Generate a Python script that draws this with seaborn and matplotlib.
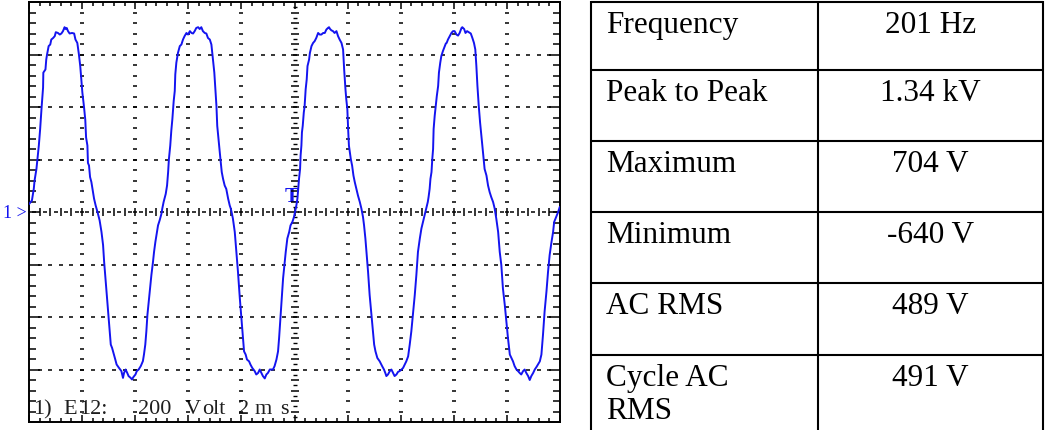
import numpy as np
import pandas as pd
import matplotlib
matplotlib.use("Agg")
import matplotlib.pyplot as plt
import seaborn as sns

# ---------------- data (read from the oscilloscope screen) ----------------
# time in ms, voltage in V  (200 V/div, 2 ms/div)
cycle1_ms = [0.00, 0.11, 0.18, 0.21, 0.28, 0.32, 0.37, 0.42, 0.47, 0.53, 0.54, 0.62, 0.65, 0.68, 0.74, 0.80,
             0.84, 0.91, 0.97, 1.01, 1.09, 1.16, 1.22, 1.28, 1.34, 1.38, 1.42, 1.47, 1.53, 1.62, 1.70, 1.75,
             1.82, 1.88, 1.93, 1.97, 2.01, 2.07, 2.12, 2.15, 2.20, 2.22, 2.26, 2.30, 2.35, 2.41, 2.45, 2.51,
             2.58, 2.66, 2.73, 2.79, 2.83, 2.89, 2.94, 3.00, 3.05, 3.08, 3.13, 3.20, 3.25, 3.30, 3.39, 3.48,
             3.54, 3.58, 3.64, 3.70, 3.75, 3.83, 3.88, 3.93, 4.01, 4.06, 4.13, 4.21, 4.29, 4.33, 4.38, 4.42,
             4.46, 4.51, 4.56, 4.61, 4.67, 4.71, 4.76, 4.81, 4.86, 4.92, 4.99, 5.02, 5.07]
cycle1_v = [30, 44, 88, 120, 164, 202, 253, 316, 392, 474, 531, 543, 581, 600, 632, 638,
            657, 663, 670, 685, 682, 676, 680, 689, 704, 697, 701, 689, 680, 682, 680, 657,
            644, 600, 556, 505, 455, 402, 351, 284, 253, 187, 177, 133, 114, 76, 51, 25,
            0, -32, -76, -126, -190, -265, -331, -404, -467, -505, -518, -543, -562, -581, -594, -606,
            -632, -613, -600, -613, -625, -632, -638, -629, -619, -606, -600, -587, -568, -543, -505, -455,
            -392, -341, -291, -240, -190, -152, -114, -82, -51, -32, -6, 13, 38]

cycle2_ms = [5.15, 5.20, 5.24, 5.27, 5.32, 5.36, 5.40, 5.45, 5.49, 5.51, 5.55, 5.61, 5.68, 5.74, 5.80, 5.86,
             5.93, 5.99, 6.06, 6.12, 6.18, 6.24, 6.30, 6.37, 6.43, 6.49, 6.55, 6.62, 6.68, 6.74, 6.81, 6.87,
             6.91, 6.98, 7.03, 7.06, 7.09, 7.16, 7.21, 7.26, 7.31, 7.37, 7.43, 7.50, 7.56, 7.60, 7.63, 7.68,
             7.75, 7.81, 7.87, 7.94, 8.00, 8.06, 8.10, 8.16, 8.21, 8.29, 8.34, 8.41, 8.50, 8.56, 8.63, 8.69,
             8.75, 8.81, 8.88, 8.94, 9.00, 9.07, 9.19, 9.25, 9.32, 9.38, 9.42, 9.47, 9.52, 9.57, 9.62, 9.67,
             9.73, 9.80, 9.85, 9.92, 9.98, 10.02, 10.07, 10.11]
cycle2_v = [69, 101, 152, 202, 253, 310, 354, 423, 461, 524, 569, 606, 632, 638, 657, 670,
            682, 676, 689, 682, 680, 689, 701, 704, 697, 704, 689, 682, 680, 663, 657, 638,
            600, 531, 455, 404, 328, 253, 202, 152, 126, 101, 88, 51, 25, 13, 0, -25,
            -76, -152, -227, -328, -404, -480, -531, -543, -562, -569, -581, -594, -606, -619, -613, -600,
            -613, -625, -634, -619, -613, -600, -600, -587, -562, -531, -480, -404, -328, -253, -202, -152,
            -101, -76, -51, -38, -19, 0, 25, 51]

cycle3_ms = [10.17, 10.21, 10.23, 10.26, 10.28, 10.31, 10.35, 10.38, 10.42, 10.46, 10.49, 10.55, 10.58, 10.64,
             10.70, 10.76, 10.82, 10.89, 10.95, 11.01, 11.08, 11.14, 11.20, 11.26, 11.30, 11.34, 11.39, 11.45,
             11.51, 11.58, 11.64, 11.70, 11.77, 11.83, 11.87, 11.92, 11.95, 11.99, 12.02, 12.05, 12.12, 12.17,
             12.22, 12.27, 12.33, 12.39, 12.46, 12.52, 12.58, 12.62, 12.67, 12.71, 12.77, 12.83, 12.90, 12.96,
             13.00, 13.05, 13.12, 13.21, 13.30, 13.37, 13.42, 13.46, 13.52, 13.59, 13.65, 13.71, 13.77, 13.84,
             13.90, 13.96, 14.03, 14.09, 14.15, 14.21, 14.28, 14.34, 14.40, 14.47, 14.53, 14.59, 14.65, 14.72,
             14.78, 14.84, 14.90]
cycle3_v = [126, 164, 215, 253, 303, 328, 379, 402, 467, 505, 556, 581, 606, 632,
            644, 651, 663, 682, 676, 676, 682, 682, 695, 701, 704, 697, 692, 689,
            682, 689, 670, 657, 644, 619, 543, 467, 430, 392, 316, 253, 202, 177,
            139, 114, 88, 63, 38, 13, -19, -51, -101, -152, -227, -316, -392, -455,
            -505, -531, -556, -569, -587, -600, -613, -625, -619, -606, -600, -613, -625, -619,
            -609, -606, -600, -594, -581, -569, -550, -505, -455, -379, -316, -240, -152, -101,
            -63, -38, -13]

cycle4_ms = [14.98, 15.02, 15.05, 15.09, 15.12, 15.16, 15.19, 15.22, 15.24, 15.28, 15.32, 15.36, 15.41, 15.44,
             15.49, 15.53, 15.59, 15.66, 15.70, 15.73, 15.78, 15.85, 15.91, 15.97, 16.03, 16.10, 16.16, 16.22,
             16.29, 16.32, 16.39, 16.44, 16.50, 16.56, 16.64, 16.70, 16.76, 16.81, 16.85, 16.89, 16.94, 16.99,
             17.04, 17.10, 17.16, 17.23, 17.29, 17.35, 17.41, 17.48, 17.54, 17.60, 17.67, 17.73, 17.79, 17.85,
             17.92, 17.98, 18.04, 18.11, 18.17, 18.23, 18.29, 18.36, 18.42, 18.48, 18.54, 18.61, 18.67, 18.73,
             18.80, 18.86, 18.92, 18.99, 19.05, 19.11, 19.17, 19.24, 19.30, 19.36, 19.42, 19.49, 19.55, 19.61,
             19.68, 19.74, 19.78, 19.83, 19.88, 19.93, 19.99]
cycle4_v = [19, 38, 57, 88, 126, 152, 202, 240, 316, 366, 404, 442, 480, 531,
            569, 594, 613, 632, 642, 644, 657, 670, 682, 689, 689, 676, 672, 682,
            701, 704, 697, 682, 689, 685, 680, 663, 644, 619, 556, 480, 404, 341,
            291, 227, 164, 139, 101, 76, 57, 38, 13, -25, -76, -152, -202, -291,
            -354, -417, -480, -543, -556, -569, -587, -600, -606, -613, -619, -606, -600, -613,
            -625, -640, -625, -613, -600, -591, -581, -569, -543, -467, -379, -303, -227, -164,
            -114, -76, -38, -25, -13, 0, 19]

# measurement table
row_labels = ["Frequency", "Peak to Peak", "Maximum", "Minimum", "AC RMS", "Cycle AC\nRMS"]
row_values = ["201 Hz", "1.34 kV", "704 V", "-640 V", "489 V", "491 V"]

# scope caption
caption_parts = ["1)", "E", "12:", "200", "V", "olt", "2", "m", "s"]

# ---------------- figure ----------------
sns.set_theme(style="white")
plt.rcParams["font.family"] = ["Liberation Serif", "DejaVu Serif"]

W, H = 1045, 431
fig = plt.figure(figsize=(W / 100, H / 100), dpi=100, facecolor="white")

# background axes in pixel coordinates (table, captions)
bg = fig.add_axes([0, 0, 1, 1], zorder=0)
bg.set_xlim(0, W)
bg.set_ylim(H, 0)
bg.axis("off")

# scope axes
L, R, T, B = 29, 560, 3, 423
ax = fig.add_axes([L / W, 1 - B / H, (R - L) / W, (B - T) / H], zorder=1)
ax.set_facecolor("none")

df = pd.DataFrame({
    "time_ms": cycle1_ms + cycle2_ms + cycle3_ms + cycle4_ms,
    "volts": cycle1_v + cycle2_v + cycle3_v + cycle4_v,
})

blue = "#1414f0"
sns.lineplot(data=df, x="time_ms", y="volts", sort=False, estimator=None,
             color=blue, linewidth=1.4, ax=ax, legend=False, zorder=5)

ax.set_xlim(0, 20)
ax.set_ylim(-800, 800)
ax.set_xlabel("")
ax.set_ylabel("")

# graticule
dot = dict(linestyle="none", color="black", zorder=2)
minor_t = np.arange(0.4, 19.9, 0.4)
minor_v = np.arange(-760, 761, 40)
for tv in [2, 4, 6, 8, 12, 14, 16, 18]:
    ax.plot(np.full(minor_v.size, tv), minor_v, marker="_", markersize=2.6, markeredgewidth=1.1, **dot)
for vv in [-600, -400, -200, 200, 400, 600]:
    ax.plot(minor_t, np.full(minor_t.size, vv), marker="_", markersize=2.6, markeredgewidth=1.1, **dot)
# centre lines
half_t = np.arange(0.2, 19.9, 0.4)
ax.plot(half_t, np.zeros(half_t.size), marker="_", markersize=2.6, markeredgewidth=1.1, **dot)
ax.plot(minor_t, np.zeros(minor_t.size), marker="|", markersize=5.5, markeredgewidth=1.1, **dot)
half_v = np.arange(-780, 781, 40)
ax.plot(np.full(half_v.size, 10), half_v, marker="_", markersize=2.4, markeredgewidth=1.0, **dot)
ax.plot(np.full(minor_v.size, 10), minor_v, marker="_", markersize=5.5, markeredgewidth=1.1, **dot)

# edge ticks
ax.set_xticks(np.arange(0, 21, 2))
ax.set_xticks(np.arange(0, 20.1, 0.4), minor=True)
ax.set_yticks(np.arange(-800, 801, 200))
ax.set_yticks(np.arange(-800, 801, 40), minor=True)
ax.tick_params(which="both", direction="in", top=True, bottom=True, left=True, right=True,
               labelbottom=False, labelleft=False, color="black")
ax.tick_params(axis="x", which="minor", length=3, width=1.1)
ax.tick_params(axis="x", which="major", length=5, width=1.1)
ax.tick_params(axis="y", which="minor", length=5, width=1.1)
ax.tick_params(axis="y", which="major", length=8, width=1.1)
for s in ax.spines.values():
    s.set_visible(True)
    s.set_color("black")
    s.set_linewidth(1.4)

# scope captions
cap_x = [33, 63, 79, 138, 185, 202, 238, 255, 280]
for txt, x in zip(caption_parts, cap_x):
    bg.text(x, 414, txt, fontsize=16, color="#1e1e1e", va="baseline", ha="left")
bg.text(27, 214, "1 >", fontsize=13, color=blue, va="center", ha="right")
bg.text(292, 197, "T", fontsize=15, color=blue, va="center", ha="center", fontweight="bold")

# table
tl, tm, tr = 591, 818, 1043
row_tops = [3, 71, 142, 213, 284, 356]
lw = 1.5
for x in (tl, tm, tr):
    bg.plot([x, x], [2, H], color="black", linewidth=lw, solid_capstyle="butt")
for y in row_tops:
    bg.plot([tl, tr], [y, y], color="black", linewidth=lw, solid_capstyle="butt")
for top, lab, val in zip(row_tops, row_labels, row_values):
    for i, line in enumerate(lab.split("\n")):
        bg.text(606, top + 30 + i * 33, line, fontsize=22.5, color="black", va="baseline", ha="left")
    bg.text((tm + tr) / 2, top + 30, val, fontsize=22.5, color="black", va="baseline", ha="center")

fig.savefig("out.png", dpi=100, facecolor="white")
